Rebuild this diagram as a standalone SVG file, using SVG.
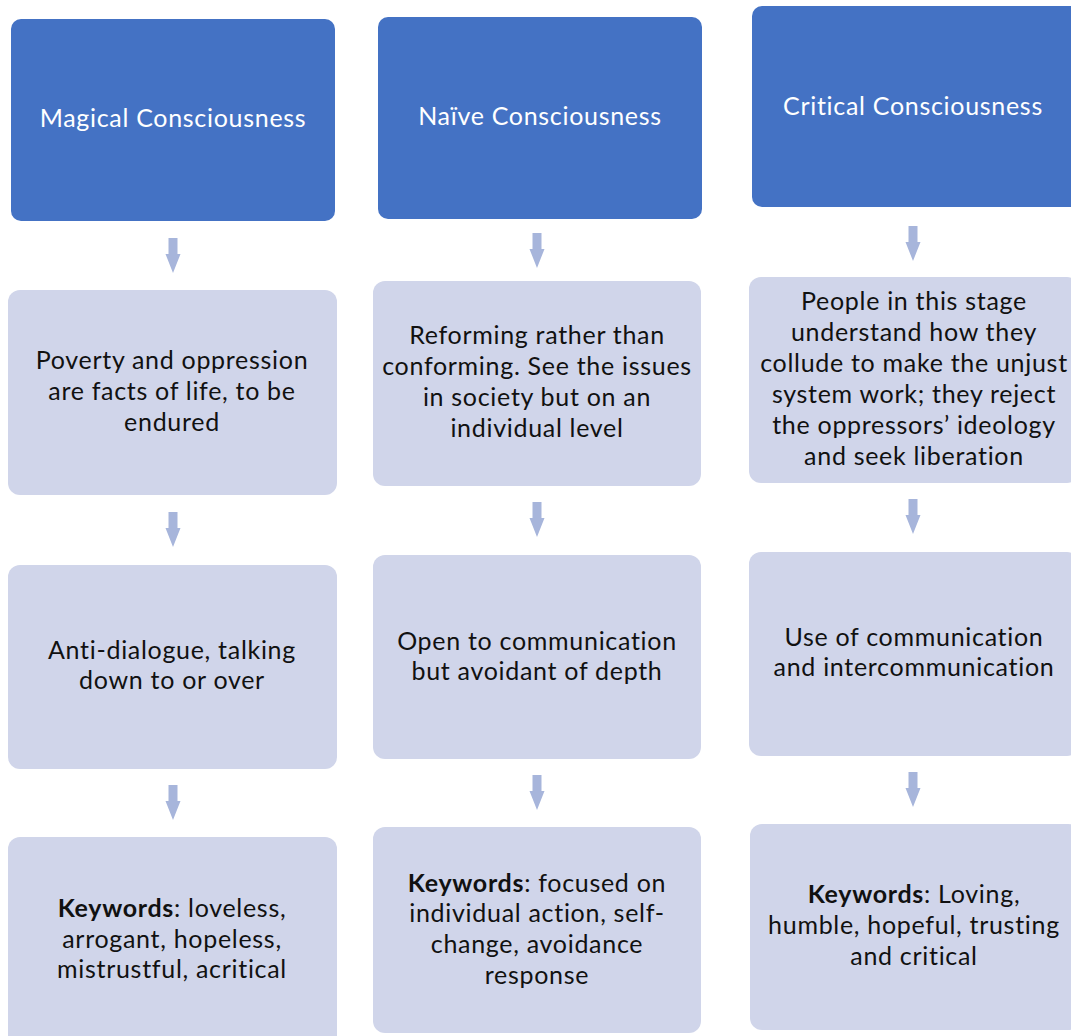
<svg xmlns="http://www.w3.org/2000/svg" width="1071" height="1036" viewBox="0 0 1071 1036">
  <style>
    .hdr { fill: #4472C4; }
    .box { fill: #D0D5EA; }
    .arrow { fill: #A7B5DB; }
    text { font-family: Lato, "Open Sans", sans-serif; font-size: 25px; letter-spacing: 0.7px; font-variant-ligatures: none; text-anchor: middle; }
    .ht { fill: #FFFFFF; }
    .bt { fill: #111111; }
    .b { font-weight: bold; }
  </style>
  <defs>
    <!-- small block arrow pointing down, tip at (0,35) -->
    <path id="down" d="M -4.5 0 H 4.5 V 16 H 7.5 L 0 35 L -7.5 16 H -4.5 Z"/>
  </defs>

  <rect width="1071" height="1036" fill="#FFFFFF"/>

  <!-- Column 1: Magical -->
  <g id="magical-header">
    <rect class="hdr" x="11" y="19" width="324" height="202" rx="10"/>
    <text class="ht" x="173" y="127">Magical Consciousness</text>
  </g>
  <g id="magical-view">
    <rect class="box" x="8" y="290" width="329" height="205" rx="12"/>
    <text class="bt" x="172" y="369">Poverty and oppression</text>
    <text class="bt" x="172" y="400">are facts of life, to be</text>
    <text class="bt" x="172" y="431">endured</text>
  </g>
  <g id="magical-dialogue">
    <rect class="box" x="8" y="565" width="329" height="204" rx="12"/>
    <text class="bt" x="172" y="659">Anti-dialogue, talking</text>
    <text class="bt" x="172" y="689">down to or over</text>
  </g>
  <g id="magical-keywords">
    <rect class="box" x="8" y="837" width="329" height="210" rx="12"/>
    <text class="bt" x="172" y="917"><tspan class="b">Keywords</tspan>: loveless,</text>
    <text class="bt" x="172" y="948">arrogant, hopeless,</text>
    <text class="bt" x="172" y="978">mistrustful, acritical</text>
  </g>

  <!-- Column 2: Naive -->
  <g id="naive-header">
    <rect class="hdr" x="378" y="17" width="324" height="202" rx="10"/>
    <text class="ht" x="540" y="125">Naïve Consciousness</text>
  </g>
  <g id="naive-view">
    <rect class="box" x="373" y="281" width="328" height="205" rx="12"/>
    <text class="bt" x="537" y="344">Reforming rather than</text>
    <text class="bt" x="537" y="375">conforming. See the issues</text>
    <text class="bt" x="537" y="406">in society but on an</text>
    <text class="bt" x="537" y="437">individual level</text>
  </g>
  <g id="naive-dialogue">
    <rect class="box" x="373" y="555" width="328" height="204" rx="12"/>
    <text class="bt" x="537" y="650">Open to communication</text>
    <text class="bt" x="537" y="680">but avoidant of depth</text>
  </g>
  <g id="naive-keywords">
    <rect class="box" x="373" y="827" width="328" height="206" rx="12"/>
    <text class="bt" x="537" y="892"><tspan class="b">Keywords</tspan>: focused on</text>
    <text class="bt" x="537" y="922">individual action, self-</text>
    <text class="bt" x="537" y="953">change, avoidance</text>
    <text class="bt" x="537" y="984">response</text>
  </g>

  <!-- Column 3: Critical -->
  <g id="critical-header">
    <rect class="hdr" x="752" y="6" width="328" height="201" rx="10"/>
    <text class="ht" x="913" y="115">Critical Consciousness</text>
  </g>
  <g id="critical-view">
    <rect class="box" x="749" y="277" width="330" height="206" rx="12"/>
    <text class="bt" x="914" y="310">People in this stage</text>
    <text class="bt" x="914" y="341">understand how they</text>
    <text class="bt" x="914" y="372">collude to make the unjust</text>
    <text class="bt" x="914" y="403">system work; they reject</text>
    <text class="bt" x="914" y="434">the oppressors’ ideology</text>
    <text class="bt" x="914" y="465">and seek liberation</text>
  </g>
  <g id="critical-dialogue">
    <rect class="box" x="749" y="552" width="330" height="204" rx="12"/>
    <text class="bt" x="914" y="646">Use of communication</text>
    <text class="bt" x="914" y="676">and intercommunication</text>
  </g>
  <g id="critical-keywords">
    <rect class="box" x="750" y="824" width="330" height="206" rx="12"/>
    <text class="bt" x="914" y="903"><tspan class="b">Keywords</tspan>: Loving,</text>
    <text class="bt" x="914" y="934">humble, hopeful, trusting</text>
    <text class="bt" x="914" y="965">and critical</text>
  </g>

  <!-- Connectors: down arrows between stages -->
  <g id="connectors" class="arrow">
    <use href="#down" x="173" y="238"/>
    <use href="#down" x="173" y="512"/>
    <use href="#down" x="173" y="785"/>
    <use href="#down" x="537" y="233"/>
    <use href="#down" x="537" y="502"/>
    <use href="#down" x="537" y="775"/>
    <use href="#down" x="913" y="226"/>
    <use href="#down" x="913" y="499"/>
    <use href="#down" x="913" y="772"/>
  </g>
</svg>
